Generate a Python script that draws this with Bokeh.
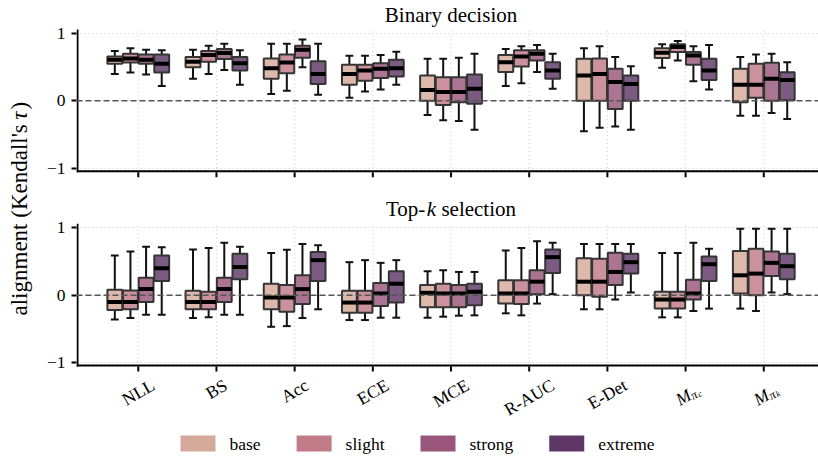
import math
from bokeh.plotting import figure
from bokeh.layouts import row, column
from bokeh.models import Range1d, FixedTicker, Span, ColumnDataSource, CustomJSTickFormatter
from bokeh.core.properties import value
from bokeh.embed import file_html
from bokeh.resources import INLINE

# ---------------- data ----------------
metrics = ["NLL", "BS", "Acc", "ECE", "MCE", "R-AUC", "E-Det", "M_pi_c", "M_pi_k"]
conditions = ["base", "slight", "strong", "extreme"]
cond_colors = ["#d5a99a", "#c07a88", "#99567a", "#5e3766"]
panel_titles = ["Binary decision", "Top-k selection"]

# Binary decision (per metric: base, slight, strong, extreme)
bin_whislo = [[0.40, 0.42, 0.39, 0.22], [0.33, 0.40, 0.46, 0.24], [0.10, 0.15, 0.50, 0.09],
              [0.045, 0.14, 0.17, 0.24], [-0.21, -0.29, -0.30, -0.43], [0.22, 0.26, 0.43, 0.18],
              [-0.45, -0.40, -0.38, -0.43], [0.49, 0.60, 0.29, 0.17], [-0.22, -0.22, -0.18, -0.27]]
bin_q1 = [[0.55, 0.57, 0.55, 0.42], [0.50, 0.58, 0.62, 0.45], [0.33, 0.41, 0.64, 0.25],
          [0.24, 0.30, 0.34, 0.36], [0.0, -0.06, -0.02, -0.045], [0.43, 0.51, 0.60, 0.33],
          [0.0, 0.0, -0.12, 0.0], [0.635, 0.725, 0.535, 0.31], [-0.02, 0.045, 0.0, 0.01]]
bin_med = [[0.61, 0.63, 0.61, 0.55], [0.58, 0.68, 0.71, 0.56], [0.485, 0.57, 0.76, 0.40],
           [0.40, 0.45, 0.475, 0.485], [0.16, 0.13, 0.13, 0.18], [0.575, 0.66, 0.70, 0.45],
           [0.375, 0.40, 0.28, 0.25], [0.715, 0.80, 0.675, 0.45], [0.24, 0.24, 0.33, 0.31]]
bin_q3 = [[0.66, 0.70, 0.69, 0.69], [0.65, 0.74, 0.77, 0.65], [0.63, 0.69, 0.82, 0.59],
          [0.535, 0.535, 0.56, 0.61], [0.375, 0.35, 0.35, 0.39], [0.68, 0.75, 0.75, 0.575],
          [0.625, 0.63, 0.475, 0.375], [0.78, 0.84, 0.725, 0.625], [0.475, 0.55, 0.565, 0.425]]
bin_whishi = [[0.74, 0.78, 0.76, 0.75], [0.76, 0.82, 0.85, 0.75], [0.85, 0.85, 0.91, 0.85],
              [0.67, 0.67, 0.68, 0.73], [0.625, 0.625, 0.64, 0.70], [0.77, 0.81, 0.83, 0.70],
              [0.78, 0.81, 0.65, 0.515], [0.84, 0.89, 0.81, 0.83], [0.65, 0.69, 0.70, 0.575]]

# Top-k selection
topk_whislo = [[-0.36, -0.34, -0.29, -0.29], [-0.34, -0.33, -0.29, -0.29], [-0.47, -0.46, -0.34, -0.21],
               [-0.37, -0.37, -0.335, -0.335], [-0.335, -0.32, -0.305, -0.30], [-0.27, -0.30, -0.125, 0.015],
               [-0.21, -0.21, -0.065, 0.04], [-0.33, -0.33, -0.235, -0.20], [-0.20, -0.235, 0.04, 0.015]]
topk_q1 = [[-0.22, -0.21, -0.10, 0.21], [-0.21, -0.21, -0.10, 0.235], [-0.21, -0.245, -0.13, 0.21],
           [-0.26, -0.26, -0.16, -0.11], [-0.18, -0.18, -0.18, -0.15], [-0.125, -0.13, 0.015, 0.33],
           [0.0, -0.025, 0.15, 0.32], [-0.20, -0.20, -0.065, 0.21], [0.025, 0.0, 0.285, 0.235]]
topk_med = [[-0.10, -0.10, 0.09, 0.40], [-0.10, -0.10, 0.09, 0.42], [-0.035, -0.035, 0.09, 0.52],
            [-0.11, -0.11, 0.025, 0.17], [0.035, 0.025, 0.025, 0.05], [0.025, 0.025, 0.20, 0.565],
            [0.20, 0.20, 0.345, 0.49], [-0.065, -0.065, 0.025, 0.46], [0.295, 0.32, 0.48, 0.43]]
topk_q3 = [[0.08, 0.07, 0.26, 0.59], [0.065, 0.05, 0.26, 0.615], [0.17, 0.15, 0.295, 0.64],
           [0.065, 0.065, 0.18, 0.355], [0.15, 0.17, 0.15, 0.17], [0.22, 0.22, 0.37, 0.68],
           [0.55, 0.54, 0.63, 0.615], [0.05, 0.05, 0.23, 0.575], [0.655, 0.69, 0.65, 0.615]]
topk_whishi = [[0.59, 0.65, 0.72, 0.71], [0.68, 0.70, 0.78, 0.72], [0.625, 0.675, 0.76, 0.74],
               [0.49, 0.52, 0.48, 0.52], [0.355, 0.37, 0.345, 0.345], [0.665, 0.70, 0.80, 0.78],
               [0.76, 0.76, 0.76, 0.76], [0.625, 0.625, 0.78, 0.69], [0.985, 0.985, 0.985, 0.985]]

yticks = [-1, 0, 1]

# ---------------- geometry / style ----------------
SERIF = value("Liberation Serif")
FS = "17.5px"
TFS = "21px"
YL_W = 34               # width of the y-label strip
W_RIGHT = 784           # width of the right column (page is 818 wide)
LEFT_BORDER = 42
ABOVE_PX = 29           # room above the upper panel for its title
PAD = 1.06              # each panel shows [-PAD, PAD]
GAP = 0.767             # vertical gap between panels, in value units
OFF = 2 * PAD + GAP     # shift of the top panel inside the shared frame
PANELS_H = 337          # pixel height of both panels + gap
PXU = PANELS_H / (4 * PAD + GAP)   # pixels per value unit
BELOW_PX = 66           # room below the lower panel for the tick labels
EXTRA_LO = BELOW_PX / PXU
EXTRA_HI = ABOVE_PX / PXU
FRAME_H = ABOVE_PX + PANELS_H + BELOW_PX
LG_H = 457 - FRAME_H
xr = Range1d(-0.79, 8.7)
PXX = (W_RIGHT - LEFT_BORDER) / (xr.end - xr.start)
offsets = [-0.3, -0.1, 0.1, 0.3]
BOXW = 0.19
CAPW = 0.05
TICK = 5 / PXU
TITLE_PX = 14.5         # title baseline above the panel top

TW = {"N": .722, "L": .611, "B": .667, "S": .556, "A": .722, "c": .444, "E": .611, "C": .667,
      "M": .889, "R": .667, "-": .333, "U": .722, "D": .722, "e": .444, "t": .278, " ": .25,
      "b": .5, "a": .444, "s": .389, "l": .278, "i": .278, "g": .5, "h": .5, "r": .333,
      "o": .5, "n": .5, "x": .5, "m": .778, "p": .5, "k": .5, "T": .611}


def twidth(s, px):
    return sum(TW.get(ch, .5) for ch in s) * px


def strip(height, x_range, width, left, right=0):
    f = figure(width=width, height=height, x_range=x_range, y_range=Range1d(0, height),
               output_backend="svg", toolbar_location=None, x_axis_type=None, y_axis_type=None,
               min_border_left=left, min_border_right=right, min_border_top=0, min_border_bottom=0)
    f.title = None
    f.outline_line_color = None
    f.grid.visible = False
    f.background_fill_color = "white"
    f.border_fill_color = "white"
    return f


# ---------------- main figure (both panels share one frame) ----------------
p = figure(width=W_RIGHT, height=FRAME_H, x_range=xr,
           y_range=Range1d(-PAD - EXTRA_LO, 3 * PAD + GAP + EXTRA_HI), output_backend="svg",
           toolbar_location=None, x_axis_location=None, min_border_left=LEFT_BORDER,
           min_border_right=0, min_border_top=0, min_border_bottom=0)
p.title = None
p.extra_y_ranges = {"top": Range1d(-3 * PAD - GAP - EXTRA_LO, PAD + EXTRA_HI)}
p.outline_line_color = None
p.background_fill_color = "white"
p.border_fill_color = "white"

cats = list(range(len(metrics)))
cx = (len(metrics) - 1) / 2
spine_kw = dict(line_color="black", line_width=2, line_cap="butt")
grid_kw = dict(line_color="#c8c8c8", line_width=1, line_dash="1 3")


def draw_panel(whislo, q1, med, q3, whishi, rname):
    xs, lo, a, m, b, hi, fc = [], [], [], [], [], [], []
    for i in range(len(metrics)):
        for j in range(len(conditions)):
            xs.append(i + offsets[j])
            lo.append(whislo[i][j]); a.append(q1[i][j]); m.append(med[i][j])
            b.append(q3[i][j]); hi.append(whishi[i][j]); fc.append(cond_colors[j])
    src = ColumnDataSource(dict(
        x=xs, lo=lo, q1=a, med=m, q3=b, hi=hi, fc=fc,
        l=[x - BOXW / 2 for x in xs], r=[x + BOXW / 2 for x in xs],
        cl=[x - CAPW for x in xs], cr=[x + CAPW for x in xs]))
    # vertical dotted grid inside the panel
    p.segment(x0=cats, y0=[-PAD] * len(cats), x1=cats, y1=[PAD] * len(cats),
              y_range_name=rname, **grid_kw)
    kw = dict(line_color="#111111", line_width=2, line_cap="butt", y_range_name=rname)
    p.segment("x", "q3", "x", "hi", source=src, **kw)
    p.segment("x", "lo", "x", "q1", source=src, **kw)
    p.segment("cl", "hi", "cr", "hi", source=src, **kw)
    p.segment("cl", "lo", "cr", "lo", source=src, **kw)
    p.quad(left="l", right="r", bottom="q1", top="q3", source=src, fill_color="fc",
           fill_alpha=0.82, line_color="#353535", line_width=2, y_range_name=rname)
    p.segment("l", "med", "r", "med", source=src, line_color="black", line_width=4,
              line_cap="butt", y_range_name=rname)
    p.add_layout(Span(location=0, dimension="width", line_color="#555555", line_width=1.5,
                      line_dash="6 3", y_range_name=rname))
    # spines (left and bottom) and x ticks of this panel
    xl0 = xr.start + 1 / PXX
    p.segment(x0=[xl0], y0=[-PAD], x1=[xl0], y1=[PAD], y_range_name=rname, **spine_kw)
    yb = -PAD + 1 / PXU
    p.segment(x0=[xr.start], y0=[yb], x1=[xr.end], y1=[yb], y_range_name=rname, **spine_kw)
    p.segment(x0=cats, y0=[-PAD] * len(cats), x1=cats, y1=[-PAD - TICK] * len(cats),
              y_range_name=rname, **spine_kw)


draw_panel(bin_whislo, bin_q1, bin_med, bin_q3, bin_whishi, "top")
draw_panel(topk_whislo, topk_q1, topk_med, topk_q3, topk_whishi, "default")

# panel titles
base_y = PAD + TITLE_PX / PXU
txt_kw = dict(text_font=SERIF, text_font_size=TFS, text_baseline="alphabetic",
              text_color="black")
p.text(x=[cx], y=[base_y], text=[panel_titles[0]], text_align="center", y_range_name="top",
       **txt_kw)
w_top = twidth("Top-", 21)
w_k = 0.444 * 21
w_sel = twidth(" selection", 21)
start = -(w_top + w_k + w_sel) / 2
p.text(x=[cx], y=[base_y], text=["Top-"], x_offset=start, text_align="left", **txt_kw)
p.text(x=[cx], y=[base_y], text=["k"], x_offset=start + w_top, text_font_style="italic",
       text_align="left", **txt_kw)
p.text(x=[cx], y=[base_y], text=["selection"], x_offset=start + w_top + w_k + 0.25 * 21,
       text_align="left", **txt_kw)

# y axis: ticks of both panels on the shared axis
p.yaxis.ticker = FixedTicker(ticks=yticks + [t + OFF for t in yticks])
p.yaxis.formatter = CustomJSTickFormatter(args=dict(off=OFF, mid=PAD + GAP / 2), code="""
    let v = tick > mid ? tick - off : tick;
    v = Math.round(v);
    return v < 0 ? "\u2212" + Math.abs(v) : String(v);
""")
p.yaxis.axis_line_color = None
p.yaxis.major_label_text_font = "Liberation Serif"
p.yaxis.major_label_text_font_size = FS
p.yaxis.major_label_text_color = "black"
p.yaxis.major_label_standoff = 6
p.yaxis.major_tick_line_width = 2
p.yaxis.major_tick_line_color = "black"
p.yaxis.major_tick_out = 5
p.yaxis.major_tick_in = 0
p.yaxis.minor_tick_line_color = None
p.xgrid.visible = False
p.ygrid.ticker = FixedTicker(ticks=yticks + [t + OFF for t in yticks])
p.ygrid.grid_line_color = "#c8c8c8"
p.ygrid.grid_line_dash = "1 3"
p.ygrid.grid_line_width = 1

# ---------------- rotated x tick labels (below the lower panel) ----------------
ang = math.radians(30)
fs = 17.5
hh = 0.75 * fs
TOP_PX = 11.5   # gap between spine and the top of the rotated labels
xs_, ys_, txt_ = [], [], []
for i, lab in enumerate(metrics[:7]):
    w = twidth(lab, fs)
    c_px = TOP_PX + (w * math.sin(ang) + hh * math.cos(ang)) / 2
    xs_.append(i); ys_.append(-PAD - c_px / PXU); txt_.append(lab)
p.text(x=xs_, y=ys_, text=txt_, angle=ang, text_font=SERIF, text_font_size=FS,
       text_align="center", text_baseline="middle", text_color="black")

subs = {"M_pi_c": "c", "M_pi_k": "k"}
for i, lab in enumerate(metrics):
    if lab not in subs:
        continue
    pieces = [("M", fs, 0.0, 0.0), ("\u03c0", 0.7 * fs, 0.833 * fs, -0.2 * fs),
              (subs[lab], 0.5 * fs, 0.833 * fs + 0.55 * 0.7 * fs, -0.2 * fs - 0.15 * 0.7 * fs)]
    total_w = 0.833 * fs + 0.55 * 0.7 * fs + 0.5 * 0.5 * fs
    uc, vc = total_w / 2, 0.28 * fs
    bw = total_w * math.sin(ang) + hh * math.cos(ang)
    c_px = TOP_PX + bw / 2
    for t, size, u, v in pieces:
        du, dv = u - uc, v - vc
        dx = du * math.cos(ang) - dv * math.sin(ang)
        dy = du * math.sin(ang) + dv * math.cos(ang)
        p.text(x=[i], y=[-PAD - (c_px - dy) / PXU], text=[t], x_offset=dx, angle=ang,
               text_font=SERIF, text_font_size=f"{size:.2f}px", text_font_style="italic",
               text_align="left", text_baseline="alphabetic", text_color="black")

# ---------------- legend ----------------
page_left = YL_W + LEFT_BORDER
lg = strip(LG_H, Range1d(page_left, YL_W + W_RIGHT), W_RIGHT, LEFT_BORDER)
lx = 180
lefts, rights, tx = [], [], []
for lab in conditions:
    lefts.append(lx); rights.append(lx + 35); tx.append(lx + 35 + 14)
    lx += 35 + 14 + twidth(lab, fs) + 36
lg.quad(left=lefts, right=rights, bottom=[6] * 4, top=[22] * 4, fill_color=cond_colors,
        line_color=None)
lg.text(x=tx, y=[14] * 4, text=conditions, text_font=SERIF, text_font_size=FS,
        text_align="left", text_baseline="middle", text_color="black")

# ---------------- y label ----------------
YFS = 23
yl = strip(457, Range1d(0, YL_W), YL_W, 0)
w1 = twidth("alignment (Kendall", YFS) + 0.18 * YFS + 0.389 * YFS
w_sp = 0.25 * YFS
w_tau = 0.44 * YFS
y0 = 457 - 315
ykw = dict(angle=math.pi / 2, text_font=SERIF, text_font_size=f"{YFS}px", text_align="left",
           text_baseline="middle", text_color="black")
yl.text(x=[19], y=[y0], text=["alignment (Kendall's"], **ykw)
yl.text(x=[19], y=[y0 + w1 + w_sp], text=["\u03c4"], text_font_style="italic", **ykw)
yl.text(x=[19], y=[y0 + w1 + w_sp + w_tau], text=[")"], **ykw)

layout = row(yl, column(p, lg))
open("out.html", "w").write(file_html(layout, INLINE))
